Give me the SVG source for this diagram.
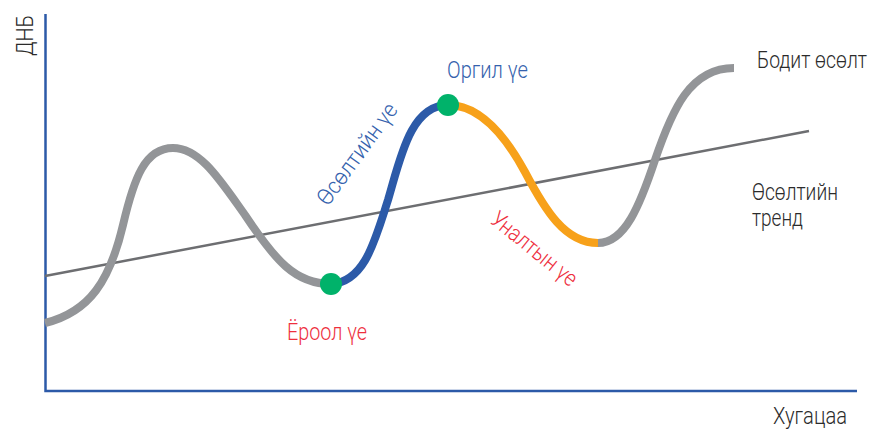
<svg xmlns="http://www.w3.org/2000/svg" width="873" height="429" viewBox="0 0 873 429">
  <style>
    text { font-family: "Roboto", "Liberation Sans", sans-serif; font-size: 23px; font-weight: 300; }
    .dark { fill: #2b2b2b; }
    .blue { fill: #3562ad; }
    .red { fill: #ee2f3e; }
    .curve { fill: none; stroke-width: 8; stroke-linecap: butt; }
    .gray { stroke: #939598; }
    .bluec { stroke: #2c5aa8; }
    .orange { stroke: #f7a11a; }
    .dot { fill: #00b26a; }
  </style>
  <rect width="873" height="429" fill="#ffffff"/>
  <g id="axes" fill="none" stroke="#2c5aa8" stroke-width="2.5">
    <polyline points="45.5,14 45.5,391 857,391"/>
  </g>
  <g id="connectors">
    <path id="trend" d="M45,276 L809,131" stroke="#6d6e71" stroke-width="2.5" fill="none"/>
    <path class="curve gray" d="M45,323 C 90,312 110,280 123,225 C 134,178 145,148 173,148 C 200,148 220,180 245,215 C 275,260 295,284 331,284"/>
    <path class="curve bluec" d="M331,284 C 365,282 375,240 388,200 C 400,160 410,105 448,105"/>
    <path class="curve orange" d="M448,105 C 480,105 505,135 525,172 C 545,210 565,243 598,243"/>
    <path class="curve gray" d="M598,243 C 625,243 640,205 655,160 C 672,110 690,68 734,68"/>
  </g>
  <g id="trough">
    <circle class="dot" cx="331" cy="284" r="11"/>
    <text class="red" x="287" y="340" textLength="80" lengthAdjust="spacingAndGlyphs">Ёроол үе</text>
  </g>
  <g id="peak">
    <circle class="dot" cx="448" cy="105" r="11"/>
    <text class="blue" x="447" y="78" textLength="81" lengthAdjust="spacingAndGlyphs">Оргил үе</text>
  </g>
  <g id="expansion">
    <text class="blue" transform="translate(328,207) rotate(-54)" textLength="120" lengthAdjust="spacingAndGlyphs">Өсөлтийн үе</text>
  </g>
  <g id="recession">
    <text class="red" transform="translate(489,222) rotate(39)" textLength="104" lengthAdjust="spacingAndGlyphs">Уналтын үе</text>
  </g>
  <g id="actual-growth">
    <text class="dark" x="757" y="68" textLength="110" lengthAdjust="spacingAndGlyphs">Бодит өсөлт</text>
  </g>
  <g id="growth-trend">
    <text class="dark" x="752" y="200" textLength="86" lengthAdjust="spacingAndGlyphs">Өсөлтийн</text>
    <text class="dark" x="752" y="226" textLength="51" lengthAdjust="spacingAndGlyphs">тренд</text>
  </g>
  <g id="y-label">
    <text class="dark" transform="translate(33,56) rotate(-90)" textLength="41" lengthAdjust="spacingAndGlyphs">ДНБ</text>
  </g>
  <g id="x-label">
    <text class="dark" x="773" y="424" textLength="74" lengthAdjust="spacingAndGlyphs">Хугацаа</text>
  </g>
</svg>
